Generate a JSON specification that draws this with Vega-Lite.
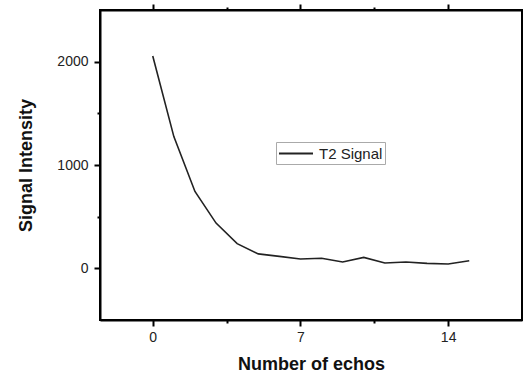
{
  "$schema": "https://vega.github.io/schema/vega-lite/v6.json",
  "autosize": "none",
  "width": 422,
  "height": 310,
  "padding": {"left": 100, "top": 10, "right": 7, "bottom": 58},
  "background": "white",
  "config": {
    "font": "Liberation Sans",
    "view": {"stroke": "black", "strokeWidth": 2},
    "axis": {"grid": false, "domainColor": "black", "domainWidth": 2, "tickColor": "black", "tickWidth": 2, "labelColor": "#222", "labelFontSize": 14, "titleFontSize": 18, "titleFontWeight": "bold", "titleColor": "#111"}
  },
  "data": {"values": [
    {"echo": 0, "signal": 2055, "series": "T2 Signal"},
    {"echo": 1, "signal": 1275, "series": "T2 Signal"},
    {"echo": 2, "signal": 744, "series": "T2 Signal"},
    {"echo": 3, "signal": 438, "series": "T2 Signal"},
    {"echo": 4, "signal": 239, "series": "T2 Signal"},
    {"echo": 5, "signal": 140, "series": "T2 Signal"},
    {"echo": 6, "signal": 116, "series": "T2 Signal"},
    {"echo": 7, "signal": 91, "series": "T2 Signal"},
    {"echo": 8, "signal": 97, "series": "T2 Signal"},
    {"echo": 9, "signal": 62, "series": "T2 Signal"},
    {"echo": 10, "signal": 106, "series": "T2 Signal"},
    {"echo": 11, "signal": 52, "series": "T2 Signal"},
    {"echo": 12, "signal": 62, "series": "T2 Signal"},
    {"echo": 13, "signal": 48, "series": "T2 Signal"},
    {"echo": 14, "signal": 42, "series": "T2 Signal"},
    {"echo": 15, "signal": 74, "series": "T2 Signal"}
  ]},
  "layer": [
    {
      "mark": {"type": "line", "strokeWidth": 1.6},
      "encoding": {
        "x": {"field": "echo", "type": "quantitative", "scale": {"domain": [-2.5, 17.5], "nice": false, "zero": false},
          "axis": {"orient": "bottom", "title": "Number of echos", "values": [0, 3.5, 7, 10.5, 14], "labelExpr": "datum.value % 7 == 0 ? datum.label : ''", "tickSize": {"condition": {"test": "datum.value % 7 == 0", "value": 6}, "value": 3}, "labelPadding": 4, "titlePadding": 11}},
        "y": {"field": "signal", "type": "quantitative", "scale": {"domain": [-500, 2500], "nice": false, "zero": false},
          "axis": {"title": "Signal Intensity", "values": [0, 500, 1000, 1500, 2000], "labelExpr": "datum.value % 1000 == 0 ? datum.label : ''", "format": "d", "tickSize": {"condition": {"test": "datum.value % 1000 == 0", "value": 6}, "value": 3}, "labelPadding": 6, "titlePadding": 21}},
        "color": {"field": "series", "type": "nominal", "scale": {"range": ["#222"]},
          "legend": {"title": null, "orient": "none", "legendX": 176, "legendY": 132, "symbolType": "M-1,0H3", "symbolSize": 289, "symbolStrokeWidth": 1.8, "labelFontSize": 15, "labelColor": "#222", "strokeColor": "#aaa", "padding": 2, "labelOffset": 22}}
      }
    },
    {
      "mark": {"type": "line", "opacity": 0},
      "encoding": {
        "x": {"field": "echo", "type": "quantitative", "scale": {"domain": [-2.5, 17.5], "nice": false, "zero": false},
          "axis": {"orient": "top", "title": null, "labels": false, "values": [0, 3.5, 7, 10.5, 14], "tickSize": {"condition": {"test": "datum.value % 7 == 0", "value": 6}, "value": 3}}},
        "y": {"field": "signal", "type": "quantitative"}
      }
    }
  ],
  "resolve": {"axis": {"x": "independent"}}
}
